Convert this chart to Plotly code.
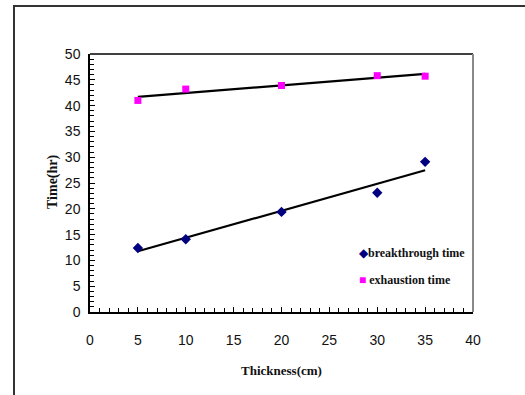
import numpy as np
import plotly.graph_objects as go

# Bed thickness (cm) and measured times (hr)
thickness = [5, 10, 20, 30, 35]
breakthrough_time = [12.4, 14.1, 19.4, 23.1, 29.1]
exhaustion_time = [41.0, 43.2, 43.9, 45.8, 45.7]

x_ticks = [0, 5, 10, 15, 20, 25, 30, 35, 40]
y_ticks = [0, 5, 10, 15, 20, 25, 30, 35, 40, 45, 50]

tick_font = dict(family="Liberation Sans Narrow, Liberation Sans, Arial", size=14, color="#111")
serif_bold = "Liberation Serif, Times New Roman, serif"

L, R, T, B = 90, 52, 54, 83
W, H = 525, 395
pw, ph = W - L - R, H - T - B


def linear_fit(x, y):
    k, b = np.polyfit(x, y, 1)
    xs = np.array([min(x), max(x)])
    return xs, k * xs + b


fig = go.Figure()

for series in (breakthrough_time, exhaustion_time):
    fx, fy = linear_fit(thickness, series)
    fig.add_trace(go.Scatter(x=fx, y=fy, mode="lines",
                             line=dict(color="black", width=2.2),
                             showlegend=False, hoverinfo="skip"))

fig.add_trace(go.Scatter(x=thickness, y=breakthrough_time, mode="markers",
                         name="breakthrough time",
                         marker=dict(symbol="diamond", size=8, color="#000080"),
                         showlegend=False))
fig.add_trace(go.Scatter(x=thickness, y=exhaustion_time, mode="markers",
                         name="exhaustion time",
                         marker=dict(symbol="square", size=7, color="#FF00FF"),
                         showlegend=False))

axis_common = dict(showgrid=False, zeroline=False, showline=True,
                   linecolor="black", linewidth=1.5,
                   ticks="inside", ticklen=5, tickcolor="black", tickwidth=1,
                   tickfont=tick_font,
                   minor=dict(ticks="inside", ticklen=4, dtick=1,
                              tickcolor="black", tickwidth=1))

fig.update_xaxes(range=[0, 40], tickvals=x_ticks, ticklabelstandoff=14, **axis_common)
fig.update_yaxes(range=[0, 50], tickvals=y_ticks, ticklabelstandoff=5, **axis_common)


def px_x(p):
    return (p - L) / pw


def px_y(p):
    return (H - B - p) / ph


shapes = [
    # outer frame
    dict(type="rect", xref="paper", yref="paper",
         x0=px_x(14), x1=px_x(540), y0=px_y(410), y1=px_y(6),
         line=dict(color="#333", width=2)),
    # plot area top and right edges
    dict(type="line", xref="paper", yref="paper", x0=0, x1=1, y0=1, y1=1,
         line=dict(color="black", width=1.5)),
    dict(type="line", xref="paper", yref="paper", x0=1, x1=1, y0=0, y1=1,
         line=dict(color="#888", width=2)),
]

annotations = [
    dict(text="<b>Time(hr)</b>", xref="paper", yref="paper",
         x=px_x(53), y=px_y(182), xanchor="center", yanchor="middle",
         textangle=-90, showarrow=False,
         font=dict(family=serif_bold, size=14, color="#111")),
    dict(text="<b>Thickness(cm)</b>", xref="paper", yref="paper",
         x=px_x(281), y=px_y(370), xanchor="center", yanchor="middle",
         showarrow=False,
         font=dict(family=serif_bold, size=13, color="#111")),
    dict(text="<span style='color:#000080'>◆</span><b>breakthrough time</b>",
         xref="paper", yref="paper", x=px_x(357), y=px_y(253),
         xanchor="left", yanchor="middle", showarrow=False,
         font=dict(family=serif_bold, size=12, color="#111")),
    dict(text="<span style='color:#FF00FF'>■</span> <b>exhaustion time</b>",
         xref="paper", yref="paper", x=px_x(357), y=px_y(280),
         xanchor="left", yanchor="middle", showarrow=False,
         font=dict(family=serif_bold, size=12, color="#111")),
]

fig.update_layout(width=W, height=H,
                  margin=dict(l=L, r=R, t=T, b=B),
                  paper_bgcolor="white", plot_bgcolor="white",
                  shapes=shapes, annotations=annotations)

fig.write_html("out.html")
